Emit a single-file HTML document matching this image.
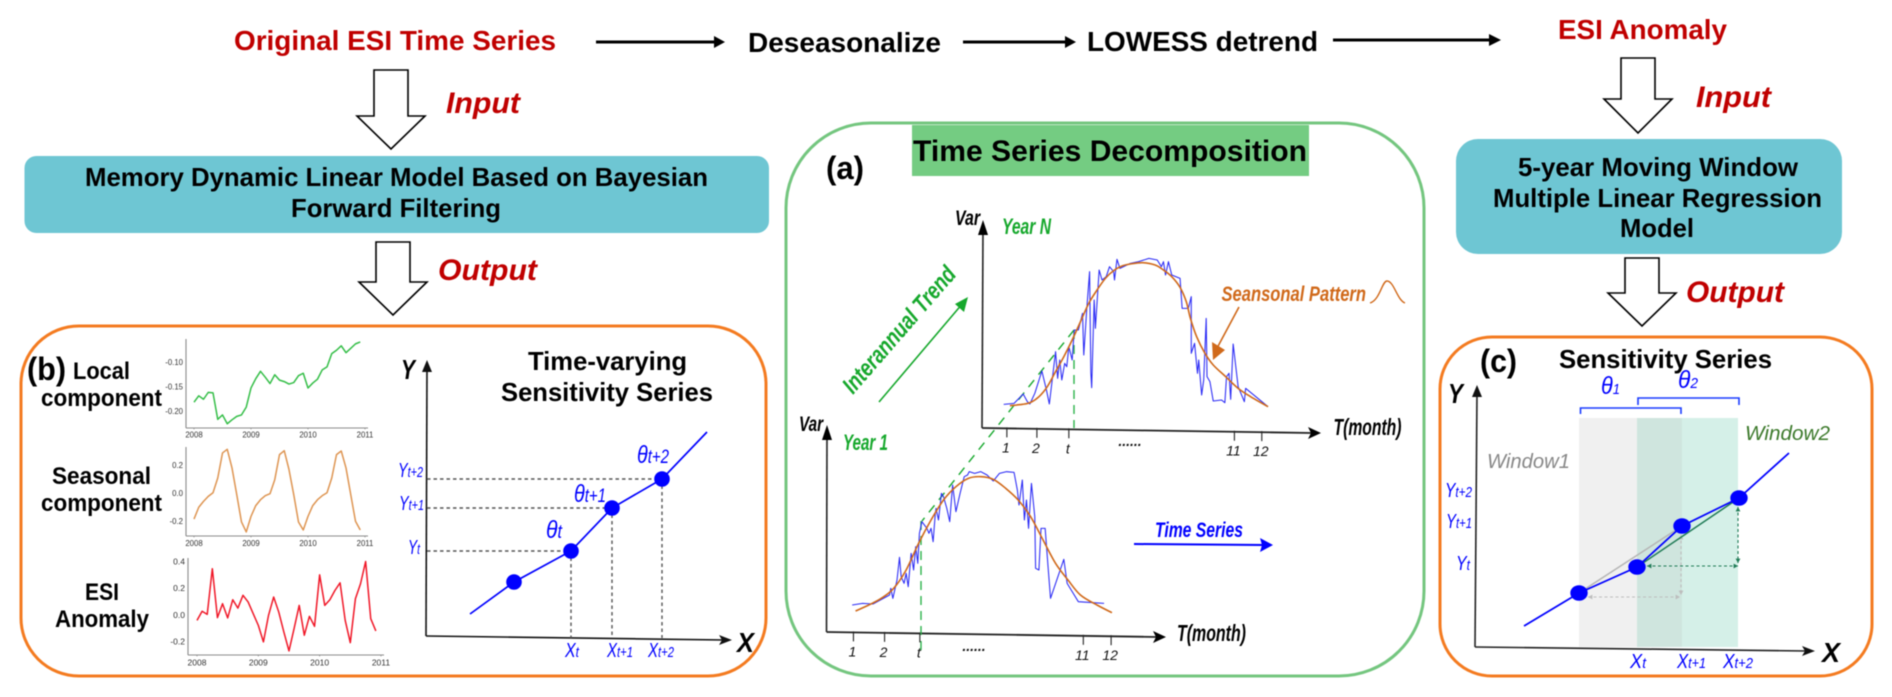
<!DOCTYPE html>
<html lang="en">
<head>
<meta charset="utf-8">
<title>ESI Time Series Sensitivity Workflow</title>
<style>
html,body{margin:0;padding:0;background:#fff;width:1892px;height:697px;overflow:hidden}
svg{display:block;filter:blur(.55px)}
text{font-family:"Liberation Sans",Arial,sans-serif}
.red{fill:#C00000;font-weight:bold;font-size:28px}
.redi{fill:#C00000;font-weight:bold;font-style:italic;font-size:30px}
.blk{fill:#000;font-weight:bold;font-size:28px}
.box{fill:#000;font-weight:bold;font-size:26px}
.lbl{fill:#000;font-weight:bold;font-size:24px}
.ttl{fill:#000;font-weight:bold;font-size:26px}
.pan{fill:#000;font-weight:bold;font-size:32px}
.axl{fill:#000;font-weight:bold;font-style:italic;font-size:28px}
.bsym{fill:#0000ff;font-style:italic;font-size:20px}
.bsub{font-size:15px}
.tsym{fill:#0000ff;font-style:italic;font-size:25px}
.tsub{font-size:19px}
.tick{fill:#111;font-style:italic;font-size:14px}
.var{fill:#000;font-style:italic;font-weight:bold;font-size:21px}
.tm{fill:#000;font-style:italic;font-weight:bold;font-size:23px}
.yr{fill:#16A82C;font-style:italic;font-weight:bold;font-size:22px}
.mini{fill:#333;font-size:7.8px}
</style>
</head>
<body>
<svg id="fig" xmlns="http://www.w3.org/2000/svg" width="1892" height="697" viewBox="0 0 1892 697">
<rect x="0" y="0" width="1892" height="697" fill="#fff"/>

<!-- top row -->
<text x="234" y="50" class="red" textLength="322" lengthAdjust="spacingAndGlyphs">Original ESI Time Series</text>
<g><line x1="596" y1="42" x2="716" y2="42" stroke="#000" stroke-width="3"/><polygon points="725,42 714,36 714,48" fill="#000"/></g>
<text x="748" y="52" class="blk" textLength="193" lengthAdjust="spacingAndGlyphs">Deseasonalize</text>
<g><line x1="963" y1="42" x2="1068" y2="42" stroke="#000" stroke-width="3"/><polygon points="1076,42 1065,36 1065,48" fill="#000"/></g>
<text x="1087" y="51" class="blk" textLength="231" lengthAdjust="spacingAndGlyphs">LOWESS detrend</text>
<g><line x1="1333" y1="40" x2="1492" y2="40" stroke="#000" stroke-width="3"/><polygon points="1501,40 1489,34 1489,46" fill="#000"/></g>
<text x="1558" y="39" class="red" textLength="169" lengthAdjust="spacingAndGlyphs">ESI Anomaly</text>

<!-- block arrows -->
<polygon points="374,70 408,70 408,116 425,116 391,149 357,116 374,116" fill="#fff" stroke="#000" stroke-width="1.6"/>
<polygon points="376,242 410,242 410,282 427,282 393,315 359,282 376,282" fill="#fff" stroke="#000" stroke-width="1.6"/>
<polygon points="1621,58 1655,58 1655,99 1672,99 1638,133 1604,99 1621,99" fill="#fff" stroke="#000" stroke-width="1.6"/>
<polygon points="1625,258 1659,258 1659,293 1676,293 1642,326 1608,293 1625,293" fill="#fff" stroke="#000" stroke-width="1.6"/>
<text x="446" y="113" class="redi" textLength="74" lengthAdjust="spacingAndGlyphs">Input</text>
<text x="438" y="280" class="redi" textLength="99" lengthAdjust="spacingAndGlyphs">Output</text>
<text x="1696" y="107" class="redi" textLength="75" lengthAdjust="spacingAndGlyphs">Input</text>
<text x="1686" y="302" class="redi" textLength="98" lengthAdjust="spacingAndGlyphs">Output</text>

<!-- model boxes -->
<rect x="24.5" y="156" width="744.5" height="77" rx="12" fill="#6EC6D3"/>
<text x="85" y="186" class="box" textLength="623" lengthAdjust="spacingAndGlyphs">Memory Dynamic Linear Model Based on Bayesian</text>
<text x="291" y="217" class="box" textLength="210" lengthAdjust="spacingAndGlyphs">Forward Filtering</text>
<rect x="1456" y="139" width="386" height="115" rx="22" fill="#6EC6D3"/>
<text x="1518" y="176" class="box" textLength="280" lengthAdjust="spacingAndGlyphs">5-year Moving Window</text>
<text x="1493" y="207" class="box" textLength="329" lengthAdjust="spacingAndGlyphs">Multiple Linear Regression</text>
<text x="1620" y="237" class="box" textLength="74" lengthAdjust="spacingAndGlyphs">Model</text>

<!-- panel frames -->
<rect x="786" y="123" width="638" height="553" rx="85" fill="#fff" stroke="#74C67F" stroke-width="3"/>
<rect x="912" y="125" width="397" height="51" fill="#74CC82"/>
<text x="913" y="161" fill="#000" font-weight="bold" font-size="30" textLength="394" lengthAdjust="spacingAndGlyphs">Time Series Decomposition</text>
<text x="826" y="179" class="pan" textLength="38" lengthAdjust="spacingAndGlyphs">(a)</text>
<rect x="21" y="326" width="745" height="350" rx="58" fill="#fff" stroke="#F47B20" stroke-width="3"/>
<rect x="1440" y="337" width="432" height="339" rx="52" fill="#fff" stroke="#F47B20" stroke-width="3"/>

<!-- panel b labels -->
<text x="27" y="380" class="pan" textLength="39" lengthAdjust="spacingAndGlyphs">(b)</text>
<text x="73" y="379" class="lbl" textLength="57" lengthAdjust="spacingAndGlyphs">Local</text>
<text x="41" y="406" class="lbl" textLength="121" lengthAdjust="spacingAndGlyphs">component</text>
<text x="52" y="484" class="lbl" textLength="99" lengthAdjust="spacingAndGlyphs">Seasonal</text>
<text x="41" y="511" class="lbl" textLength="121" lengthAdjust="spacingAndGlyphs">component</text>
<text x="85" y="600" class="lbl" textLength="34" lengthAdjust="spacingAndGlyphs">ESI</text>
<text x="55" y="627" class="lbl" textLength="94" lengthAdjust="spacingAndGlyphs">Anomaly</text>
<text x="528" y="370" class="ttl" textLength="159" lengthAdjust="spacingAndGlyphs">Time-varying</text>
<text x="501" y="401" class="ttl" textLength="212" lengthAdjust="spacingAndGlyphs">Sensitivity Series</text>

<!-- panel b axes -->
<g><line x1="426" y1="636" x2="427" y2="366" stroke="#111" stroke-width="1.6"/><polygon points="427,360 422,372 432,372" fill="#111"/></g>
<g><line x1="426" y1="636" x2="725" y2="640" stroke="#111" stroke-width="1.6"/><polygon points="732,640 719,635 722,640 719,645" fill="#111"/></g>
<text x="401" y="379" class="axl" textLength="14" lengthAdjust="spacingAndGlyphs">Y</text>
<text x="737" y="652" class="axl" textLength="17" lengthAdjust="spacingAndGlyphs">X</text>
<text x="398" y="477" class="bsym" textLength="25" lengthAdjust="spacingAndGlyphs">Y<tspan class="bsub">t+2</tspan></text>
<text x="399" y="510" class="bsym" textLength="25" lengthAdjust="spacingAndGlyphs">Y<tspan class="bsub">t+1</tspan></text>
<text x="408" y="554" class="bsym" textLength="12" lengthAdjust="spacingAndGlyphs">Y<tspan class="bsub">t</tspan></text>
<text x="565" y="657" class="bsym" textLength="14" lengthAdjust="spacingAndGlyphs">X<tspan class="bsub">t</tspan></text>
<text x="607" y="657" class="bsym" textLength="26" lengthAdjust="spacingAndGlyphs">X<tspan class="bsub">t+1</tspan></text>
<text x="648" y="657" class="bsym" textLength="26" lengthAdjust="spacingAndGlyphs">X<tspan class="bsub">t+2</tspan></text>
<text x="546" y="538" class="tsym" textLength="16" lengthAdjust="spacingAndGlyphs">θ<tspan class="tsub">t</tspan></text>
<text x="574" y="502" class="tsym" textLength="32" lengthAdjust="spacingAndGlyphs">θ<tspan class="tsub">t+1</tspan></text>
<text x="637" y="463" class="tsym" textLength="32" lengthAdjust="spacingAndGlyphs">θ<tspan class="tsub">t+2</tspan></text>

<!-- panel a static -->
<g><line x1="982" y1="428" x2="983" y2="226" stroke="#222" stroke-width="1.6"/><polygon points="983,220 978,235 988,235" fill="#000"/></g>
<g><line x1="982" y1="428" x2="1312" y2="433" stroke="#222" stroke-width="1.8"/><polygon points="1321,433 1308,427 1311,433 1308,439" fill="#000"/></g>
<g><line x1="826.5" y1="632" x2="827" y2="431" stroke="#222" stroke-width="1.6"/><polygon points="827,425 822,440 832,440" fill="#000"/></g>
<g><line x1="826.5" y1="632" x2="1157" y2="637" stroke="#222" stroke-width="1.8"/><polygon points="1166,637 1153,631 1156,637 1153,643" fill="#000"/></g>
<text x="955" y="225" class="var" textLength="25" lengthAdjust="spacingAndGlyphs">Var</text>
<text x="799" y="431" class="var" textLength="24" lengthAdjust="spacingAndGlyphs">Var</text>
<text x="1002" y="234" class="yr" textLength="49" lengthAdjust="spacingAndGlyphs">Year N</text>
<text x="843" y="450" class="yr" textLength="45" lengthAdjust="spacingAndGlyphs">Year 1</text>
<text x="1333.5" y="435" class="tm" textLength="68" lengthAdjust="spacingAndGlyphs">T(month)</text>
<text x="1177" y="641" class="tm" textLength="69" lengthAdjust="spacingAndGlyphs">T(month)</text>
<text transform="translate(853,395) rotate(-49)" fill="#16A82C" font-style="italic" font-weight="bold" font-size="24" textLength="159" lengthAdjust="spacingAndGlyphs">Interannual Trend</text>
<g><line x1="879" y1="402" x2="963" y2="303" stroke="#16A82C" stroke-width="1.6"/><polygon points="968,297 955,304 964,312" fill="#16A82C"/></g>
<line x1="1074" y1="330" x2="922" y2="521" stroke="#16A82C" stroke-width="1.4" stroke-dasharray="9,7"/>
<line x1="1074" y1="330" x2="1074" y2="428" stroke="#2BB24A" stroke-width="1.4" stroke-dasharray="9,6"/>
<line x1="921" y1="521" x2="921" y2="653" stroke="#2BB24A" stroke-width="1.4" stroke-dasharray="9,6"/>
<text x="1221.5" y="301" fill="#D0691A" font-style="italic" font-weight="bold" font-size="21" textLength="144.5" lengthAdjust="spacingAndGlyphs">Seansonal  Pattern</text>
<path d="M1370,303 C1380,300 1382,281 1387,281 C1394,281 1397,300 1405,303" fill="none" stroke="#D0691A" stroke-width="1.4"/>
<g><line x1="1239" y1="307" x2="1216" y2="350" stroke="#D0691A" stroke-width="1.6"/><polygon points="1213,360 1225,350 1212,342" fill="#D0691A"/></g>
<text x="1155" y="537" fill="#0000ff" font-style="italic" font-weight="bold" font-size="21" textLength="88" lengthAdjust="spacingAndGlyphs">Time Series</text>
<g><line x1="1134" y1="544" x2="1264" y2="545" stroke="#0000ff" stroke-width="2"/><polygon points="1273,545 1260,538 1262,545 1260,552" fill="#0000ff"/></g>

<!-- panel c static -->
<text x="1480" y="372" class="pan" textLength="37" lengthAdjust="spacingAndGlyphs">(c)</text>
<text x="1559" y="368" class="ttl" textLength="213" lengthAdjust="spacingAndGlyphs">Sensitivity Series</text>
<rect x="1579" y="418" width="58" height="229" fill="#F0F0F0"/>
<rect x="1637" y="418" width="45" height="229" fill="#CFE5DE"/>
<rect x="1682" y="418" width="56" height="229" fill="#D5F0E8"/>
<path d="M1580.5,414 V408 H1681 V414" fill="none" stroke="#1a3cff" stroke-width="1.6"/>
<path d="M1638,405 V398 H1739 V405" fill="none" stroke="#1a3cff" stroke-width="1.6"/>
<text x="1601" y="394" class="tsym" textLength="19" lengthAdjust="spacingAndGlyphs">θ<tspan class="bsub">1</tspan></text>
<text x="1678" y="388" class="tsym" textLength="20" lengthAdjust="spacingAndGlyphs">θ<tspan class="bsub">2</tspan></text>
<text x="1487" y="468" fill="#888" font-style="italic" font-size="20" textLength="83" lengthAdjust="spacingAndGlyphs">Window1</text>
<text x="1745" y="440" fill="#3D7A2C" font-style="italic" font-size="20" textLength="85" lengthAdjust="spacingAndGlyphs">Window2</text>
<g><line x1="1475" y1="647" x2="1477" y2="391" stroke="#222" stroke-width="1.6"/><polygon points="1477,385 1472,397 1482,397" fill="#111"/></g>
<g><line x1="1475" y1="647" x2="1807" y2="651" stroke="#222" stroke-width="1.6"/><polygon points="1815,651 1802,646 1805,651 1802,656" fill="#111"/></g>
<text x="1448" y="403" class="axl" textLength="15" lengthAdjust="spacingAndGlyphs">Y</text>
<text x="1822" y="662" class="axl" textLength="18" lengthAdjust="spacingAndGlyphs">X</text>
<text x="1445" y="497" class="bsym" textLength="27" lengthAdjust="spacingAndGlyphs">Y<tspan class="bsub">t+2</tspan></text>
<text x="1446" y="528" class="bsym" textLength="26" lengthAdjust="spacingAndGlyphs">Y<tspan class="bsub">t+1</tspan></text>
<text x="1456" y="570" class="bsym" textLength="14" lengthAdjust="spacingAndGlyphs">Y<tspan class="bsub">t</tspan></text>
<text x="1630" y="668" class="bsym" textLength="16" lengthAdjust="spacingAndGlyphs">X<tspan class="bsub">t</tspan></text>
<text x="1677" y="668" class="bsym" textLength="29" lengthAdjust="spacingAndGlyphs">X<tspan class="bsub">t+1</tspan></text>
<text x="1723" y="668" class="bsym" textLength="30" lengthAdjust="spacingAndGlyphs">X<tspan class="bsub">t+2</tspan></text>
</svg>

<script>
// --- Panel b mini charts: monthly values, Jan 2008 - Dec 2010 ---
var localValues = [-0.182,-0.169,-0.176,-0.162,-0.163,-0.217,-0.208,-0.226,-0.218,-0.211,-0.208,-0.192,-0.153,-0.134,-0.119,-0.131,-0.144,-0.126,-0.137,-0.140,-0.145,-0.142,-0.128,-0.123,-0.153,-0.143,-0.135,-0.116,-0.110,-0.083,-0.076,-0.067,-0.081,-0.072,-0.063,-0.059];
var seasonalValues = [-0.186,-0.102,-0.060,-0.024,0.002,0.107,0.286,0.312,0.179,-0.012,-0.207,-0.278,-0.167,-0.090,-0.048,-0.019,-0.005,0.095,0.274,0.302,0.167,-0.012,-0.207,-0.264,-0.167,-0.090,-0.048,-0.019,0.002,0.107,0.274,0.300,0.179,-0.012,-0.202,-0.264];
var anomalyValues = [-0.040,0.028,0.005,0.348,-0.020,0.085,-0.022,0.115,0.052,0.148,0.098,0.010,-0.078,-0.202,-0.002,0.135,0.022,-0.128,-0.270,-0.102,0.072,-0.152,-0.010,-0.085,0.302,0.072,0.115,0.185,0.242,-0.040,-0.208,0.122,0.235,0.402,-0.028,-0.120];
var yearTicks = [2008,2009,2010,2011];
var localTicks = [-0.10,-0.15,-0.20];
var localTickLabels = ["-0.10","-0.15","-0.20"];
var seasonalTicks = [0.2,0,-0.2];
var seasonalTickLabels = ["0.2","0.0","-0.2"];
var anomalyTicks = [0.4,0.2,0,-0.2];
var anomalyTickLabels = ["0.4","0.2","0.0","-0.2"];

// --- Panel a decomposition: time step and Var level above each year's base ---
var yearNTime = [0,25,47,57,63,75,92,103,110,125,130,135,140,147,152,157,165,170,180,190,193,200,207,210,212,218,221,230,237,247,255,265,267,273,280,305,325,350,370,380,385,390,397,405,425,430,445,452,452,460,467,470,477,482,488,490,497,505,525,533,537,543,547,553,565,580,583,637];
var yearNVar = [7,10,38,15,8,40,107,50,8,165,85,140,80,130,120,180,140,230,230,280,155,290,405,102,57,320,235,410,380,390,420,405,380,442,415,430,435,445,440,420,435,395,435,395,385,295,295,330,160,190,100,140,35,80,265,90,75,17,20,12,90,100,22,188,60,15,55,0];
var yearNSeasonTime = [15,45,65,85,105,125,145,165,185,205,225,245,265,285,305,335,365,385,405,425,440,450,465,485,505,535,565,595,637];
var yearNSeasonVar = [3,7,13,30,60,105,150,200,255,310,350,385,408,422,428,432,425,410,390,358,315,265,210,160,125,90,55,30,0];
var year1Time = [0,25,50,90,93,98,108,114,118,125,130,135,142,148,153,158,162,168,180,185,190,195,200,202,208,215,220,228,235,242,250,260,270,278,282,295,310,325,340,355,372,390,398,402,410,415,420,425,432,440,442,450,455,465,472,478,510,518,545,607];
var year1Var = [23,28,26,53,73,43,98,166,108,88,118,78,178,128,198,148,238,273,253,238,253,213,293,313,278,358,348,313,273,383,303,358,408,413,423,418,423,413,395,418,423,421,368,323,398,278,338,253,388,288,133,128,253,253,138,43,160,88,33,28];
var year1SeasonTime = [8,40,70,100,130,160,190,220,250,280,310,340,370,400,430,460,490,520,550,590,626];
var year1SeasonVar = [5,23,43,73,128,208,278,338,378,403,408,400,373,338,288,218,148,98,53,23,0];
var yearNMonths = [1,2,"t",11,12];
var year1Months = [1,2,"t",11,12];
var yearNTickSteps = [7.6,80,157,556,622];
var year1TickSteps = [3,78,163,557,624];

// --- Panels b and c: sensitivity lines (distance along X, height above X axis) ---
var sensBX = [44,88,145,186,236,281];
var sensBY = [22,54,85,128,157,204];
var sensCX = [49,104,162,207,264,314];
var sensCY = [21,54,80,121,149,194];

var NS = "http://www.w3.org/2000/svg";
var fig = document.getElementById("fig");
function mk(tag, attrs, parent) {
  var e = document.createElementNS(NS, tag);
  for (var k in attrs) e.setAttribute(k, attrs[k]);
  (parent || fig).appendChild(e);
  return e;
}
function polyStr(xs, ys, fx, fy) {
  return xs.map(function (x, i) { return fx(x).toFixed(2) + "," + fy(ys[i]).toFixed(2); }).join(" ");
}
// Catmull-Rom smoothing through the sampled values
function smoothPath(xs, ys, fx, fy) {
  var p = xs.map(function (x, i) { return [fx(x), fy(ys[i])]; });
  var d = "M" + p[0][0].toFixed(2) + "," + p[0][1].toFixed(2);
  for (var i = 0; i < p.length - 1; i++) {
    var a = p[Math.max(i - 1, 0)], b = p[i], c = p[i + 1], e = p[Math.min(i + 2, p.length - 1)];
    d += " C" + (b[0] + (c[0] - a[0]) / 6).toFixed(2) + "," + (b[1] + (c[1] - a[1]) / 6).toFixed(2) +
         " " + (c[0] - (e[0] - b[0]) / 6).toFixed(2) + "," + (c[1] - (e[1] - b[1]) / 6).toFixed(2) +
         " " + c[0].toFixed(2) + "," + c[1].toFixed(2);
  }
  return d;
}

// Mini time-series chart
function miniChart(name, values, color, ticks, tickLabels, o) {
  var g = mk("g", {});
  
  
  var fx = function (m) { return o.x2008 + m * o.perMonth; };
  var fy = function (v) { return o.zeroY - v * o.perUnit; };
  var yAxis = mk("line", {x1:o.axisX, y1:o.top, x2:o.axisX, y2:o.bottom, stroke:"#8a8a8a", "stroke-width":1.1}, g);
  
  
  var xAxis = mk("line", {x1:o.axisX, y1:o.bottom, x2:o.right, y2:o.bottom, stroke:"#8a8a8a", "stroke-width":1.1}, g);
  
  
  yearTicks.forEach(function (yr, i) {
    var x = fx(i * 12);
    mk("line", {x1:x, y1:o.bottom, x2:x, y2:o.bottom + 1.5, stroke:"#888", "stroke-width":.7}, g);
    var t = mk("text", {x:x, y:o.labelY, "text-anchor":"middle", "class":"mini", style:"font-size:" + o.font + "px"}, g);
    
    
    t.textContent = yr;
  });
  ticks.forEach(function (v, i) {
    var t = mk("text", {x:o.axisX - 3, y:fy(v) + 2.8, "text-anchor":"end", "class":"mini", style:"font-size:" + o.font + "px"}, g);
    
    
    t.textContent = tickLabels[i];
  });
  var months = values.map(function (v, i) { return i; });
  var line = mk("polyline", {points:polyStr(months, values, fx, fy), fill:"none", stroke:color, "stroke-width":1.5, "stroke-linejoin":"round"}, g);
  
  
}
miniChart("local-component", localValues, "#35BE48", localTicks, localTickLabels,
  {x2008:194, perMonth:4.75, zeroY:362 - 0.10 * 490, perUnit:490, axisX:186, top:339, bottom:428, right:368, labelY:437.5, font:7.8});
miniChart("seasonal-component", seasonalValues, "#DE9552", seasonalTicks, seasonalTickLabels,
  {x2008:194, perMonth:4.75, zeroY:493, perUnit:140, axisX:186, top:447, bottom:536, right:368, labelY:546, font:7.8});
miniChart("esi-anomaly", anomalyValues, "#F01828", anomalyTicks, anomalyTickLabels,
  {x2008:197, perMonth:5.11, zeroY:615, perUnit:133, axisX:188, top:558, bottom:655, right:384, labelY:665.5, font:8.5});

// Decomposition panels
function decomposition(name, time, vals, stime, svals, months, steps, o) {
  var fx = function (t) { return o.originX + t / 2.41; };
  var fy = function (v) { return o.originY - v / 3; };
  var g = mk("g", {});
  
  
  var noisy = mk("polyline", {points:polyStr(time, vals, fx, fy), fill:"none", stroke:"#2A2AF5", "stroke-width":1.05, "stroke-linejoin":"round"}, g);
  
  
  var season = mk("path", {d:smoothPath(stime, svals, fx, fy), fill:"none", stroke:"#D0691A", "stroke-width":1.6}, g);
  
  
  months.forEach(function (m, i) {
    var x = fx(steps[i]);
    var ay = o.axisY + (x - o.axisX0) * o.slope;
    var tick = mk("line", {x1:x, y1:ay - 1, x2:x, y2:ay + 9, stroke:"#222", "stroke-width":1.1}, g);
    
    
    var lbl = mk("text", {x:x - 1, y:ay + 24, "text-anchor":"middle", "class":"tick"}, g);
    
    
    lbl.textContent = m;
  });
  var dots = mk("text", {x:o.dotsX, y:o.dotsY, "text-anchor":"middle", "class":"tick", "font-weight":"bold"}, g);
  
  
  dots.textContent = "......";
}
decomposition("year-n", yearNTime, yearNVar, yearNSeasonTime, yearNSeasonVar, yearNMonths, yearNTickSteps,
  {originX:1003.7, originY:406.67, axisY:428, axisX0:982, slope:.0148, dotsX:1130, dotsY:446});
decomposition("year-1", year1Time, year1Var, year1SeasonTime, year1SeasonVar, year1Months, year1TickSteps,
  {originX:852.2, originY:612.67, axisY:632, axisX0:826.5, slope:.0148, dotsX:974, dotsY:651});

// Panel b sensitivity line
(function () {
  var fx = function (v) { return 426 + v; };
  var fy = function (v) { return 636 - v; };
  var g = mk("g", {});
  
  
  [2,3,4].forEach(function (i) {
    var h = mk("line", {x1:427, y1:fy(sensBY[i]), x2:fx(sensBX[i]), y2:fy(sensBY[i]), stroke:"#555", "stroke-width":1.4, "stroke-dasharray":"3.5,3"}, g);
    
    
    var v = mk("line", {x1:fx(sensBX[i]), y1:fy(sensBY[i]), x2:fx(sensBX[i]), y2:638, stroke:"#555", "stroke-width":1.4, "stroke-dasharray":"3.5,3"}, g);
    
    
  });
  var l = mk("polyline", {points:polyStr(sensBX, sensBY, fx, fy), fill:"none", stroke:"#0000ff", "stroke-width":1.7}, g);
  
  
  [1,2,3,4].forEach(function (i) {
    var c = mk("circle", {cx:fx(sensBX[i]), cy:fy(sensBY[i]), r:7.8, fill:"#0000ff"}, g);
    
    
  });
})();

// Panel c sensitivity line
(function () {
  var fx = function (v) { return 1475 + v; };
  var fy = function (v) { return 647 - v; };
  var g = mk("g", {});
  
  
  function dashArrow(x1, y1, x2, y2, col, name) {
    var d = mk("line", {x1:x1, y1:y1, x2:x2, y2:y2, stroke:col, "stroke-width":1.1, "stroke-dasharray":"3,2.5"}, g);
    
    
    [[x1,y1,x2,y2],[x2,y2,x1,y1]].forEach(function (p) {
      var a = Math.atan2(p[3] - p[1], p[2] - p[0]), s = 5;
      var pts = [[p[2],p[3]],[p[2]-s*Math.cos(a-.5),p[3]-s*Math.sin(a-.5)],[p[2]-s*Math.cos(a+.5),p[3]-s*Math.sin(a+.5)]];
      mk("polygon", {points:pts.map(function (q) { return q.join(","); }).join(" "), fill:col}, g);
    });
  }
  dashArrow(fx(sensCX[1]) + 9, fy(sensCY[1]) + 4, fx(sensCX[3]) - 2, fy(sensCY[1]) + 4, "#BDBDBD", "window-1-run-arrow");
  dashArrow(fx(sensCX[3]) - 1, fy(sensCY[3]) + 9, fx(sensCX[3]) - 1, fy(sensCY[1]) + 2, "#BDBDBD", "window-1-rise-arrow");
  dashArrow(fx(sensCX[2]) + 10, fy(sensCY[2]) - 1, fx(sensCX[4]) - 1, fy(sensCY[2]) - 1, "#1E7A55", "window-2-run-arrow");
  dashArrow(fx(sensCX[4]) - 1, fy(sensCY[4]) + 9, fx(sensCX[4]) - 1, fy(sensCY[2]) - 4, "#1E7A55", "window-2-rise-arrow");
  var s1 = mk("line", {x1:fx(sensCX[1]), y1:fy(sensCY[1]), x2:fx(sensCX[3]), y2:fy(sensCY[3]), stroke:"#B5B5B5", "stroke-width":1.5}, g);
  
  
  var s2 = mk("line", {x1:fx(sensCX[2]), y1:fy(sensCY[2]), x2:fx(sensCX[4]), y2:fy(sensCY[4]), stroke:"#1E7A55", "stroke-width":1.5}, g);
  
  
  var l = mk("polyline", {points:polyStr(sensCX, sensCY, fx, fy), fill:"none", stroke:"#0000ff", "stroke-width":1.7}, g);
  
  
  [1,2,3,4].forEach(function (i) {
    var c = mk("ellipse", {cx:fx(sensCX[i]), cy:fy(sensCY[i]), rx:8.7, ry:7.7, fill:"#0000ff"}, g);
    
    
  });
})();
</script>
</body>
</html>
